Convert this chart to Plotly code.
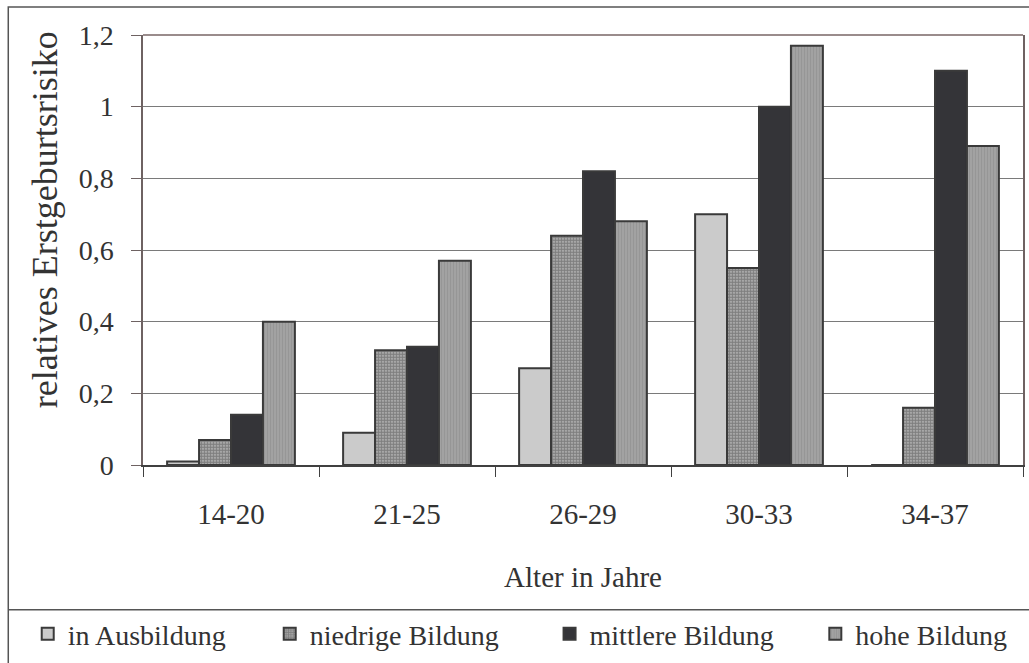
import plotly.graph_objects as go

# age groups and relative first-birth risk by education level
age_groups = ["14-20", "21-25", "26-29", "30-33", "34-37"]
in_ausbildung = [0.01, 0.09, 0.27, 0.70, 0.0]
niedrige = [0.07, 0.32, 0.64, 0.55, 0.16]
mittlere = [0.14, 0.33, 0.82, 1.00, 1.10]
hohe = [0.40, 0.57, 0.68, 1.17, 0.89]

FONT = "Liberation Serif, Times New Roman, serif"
TXT = "#333333"
EDGE = "#3a3a3a"

series = [
    ("in Ausbildung", in_ausbildung, dict(color="#cbcbcb"), "legend"),
    ("niedrige Bildung", niedrige,
     dict(color="#8a8a8a", pattern=dict(shape=".", size=3, solidity=0.75,
                                         fgcolor="#3a3a3a", bgcolor="#c4c4c4")), "legend2"),
    ("mittlere Bildung", mittlere, dict(color="#343438"), "legend3"),
    ("hohe Bildung", hohe,
     dict(color="#9c9c9c", pattern=dict(shape="|", size=3, solidity=0.35,
                                         fgcolor="#8a8a8a", bgcolor="#a2a2a2")), "legend4"),
]

fig = go.Figure()
for name, vals, marker, leg in series:
    fig.add_trace(go.Bar(
        x=age_groups, y=vals, name=name, legend=leg,
        marker=dict(**marker, line=dict(color=EDGE, width=2)),
    ))

# legend positions (paper coords), one legend per series to mimic the Excel spacing
leg_x = [-0.131, 0.144, 0.462, 0.764]
leg_y = -0.393
legends = {}
for i, lx in enumerate(leg_x):
    key = "legend" if i == 0 else f"legend{i + 1}"
    legends[key] = dict(x=lx, y=leg_y, xanchor="left", yanchor="middle",
                        orientation="h", bgcolor="rgba(0,0,0,0)",
                        font=dict(family=FONT, size=28, color=TXT))

fig.update_layout(
    width=1029, height=663,
    margin=dict(l=143, r=4, t=35, b=197),
    paper_bgcolor="white", plot_bgcolor="white",
    separators=",.",
    barmode="group", bargap=0.274, bargroupgap=0,
    font=dict(family=FONT, color=TXT),
    showlegend=True,
    **legends,
)

fig.update_xaxes(
    showline=True, linecolor="#404040", linewidth=1.5,
    ticks="outside", tickson="boundaries", ticklen=10, tickcolor="#404040",
    tickfont=dict(family=FONT, size=29, color=TXT), ticklabelstandoff=22,
    title=dict(text="Alter in Jahre", font=dict(family=FONT, size=29, color=TXT), standoff=38),
    showgrid=False,
)
fig.update_yaxes(
    range=[0, 1.2], dtick=0.2,
    showline=True, linecolor="#6e6262", linewidth=1.5, mirror=True,
    ticks="outside", ticklen=10, tickcolor="#6e6262",
    tickfont=dict(family=FONT, size=28, color=TXT), ticklabelstandoff=12,
    showgrid=True, gridcolor="#7a7a7a", gridwidth=1, zeroline=False,
)

# rotated y title (clipped at the top in the original)
fig.add_annotation(
    text="relatives Erstgeburtsrisiko", textangle=-90,
    xref="paper", yref="paper", x=-0.111, y=0.57,
    xanchor="center", yanchor="middle", showarrow=False,
    font=dict(family=FONT, size=36, color=TXT),
)

# top border of plot area, outer frame and legend separator
fig.add_shape(type="line", xref="paper", yref="paper", x0=0, x1=1, y0=1, y1=1,
              line=dict(color="#9a8c8c", width=2))
fig.add_shape(type="rect", xref="paper", yref="paper",
              x0=-0.1531, x1=1.011, y0=-0.473, y1=1.065,
              line=dict(color="#555555", width=1.5), layer="below")
fig.add_shape(type="line", xref="paper", yref="paper",
              x0=-0.1531, x1=1.011, y0=-0.3364, y1=-0.3364,
              line=dict(color="#555555", width=1.5))

# drop the default page margin so the figure sits at the window's top-left corner
fig.write_html("out.html", config={"displayModeBar": False},
               post_script="document.body.style.margin='0';")
